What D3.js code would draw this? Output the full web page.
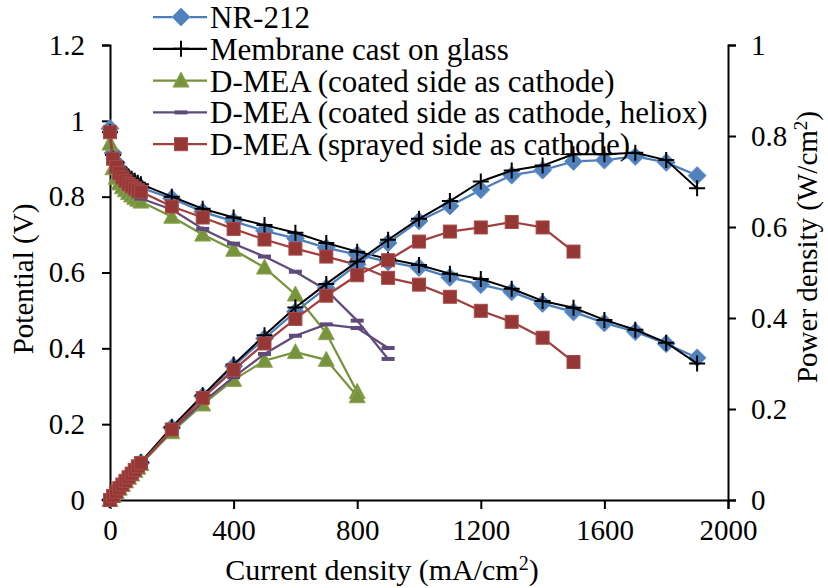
<!DOCTYPE html>
<html>
<head>
<meta charset="utf-8">
<script src="https://cdn.jsdelivr.net/npm/d3@7"></script>
<style>
  html, body { margin: 0; padding: 0; background: #fff; }
  svg { display: block; }
  text { font-family: "Liberation Serif", "Times New Roman", serif; fill: #000; }
</style>
</head>
<body>
<svg id="chart" width="828" height="588"></svg>
<script>
// Current density points (mA/cm2)
const currentFull   = [0,10,20,30,40,50,60,70,80,90,100,200,300,400,500,600,700,800,900,1000,1100,1200,1300,1400,1500,1600,1700,1800,1900];
const currentGreen  = [0,10,20,30,40,50,60,70,80,90,100,200,300,400,500,600,700,800];
const currentPurple = [0,10,20,30,40,50,60,70,80,90,100,200,300,400,500,600,700,800,900];
const currentRed    = [0,10,20,30,40,50,60,70,80,90,100,200,300,400,500,600,700,800,900,1000,1100,1200,1300,1400,1500];

// Cell potential (V)
const vNR212    = [0.98,0.915,0.89,0.875,0.864,0.855,0.848,0.841,0.835,0.829,0.824,0.795,0.76,0.735,0.71,0.69,0.665,0.647,0.628,0.613,0.587,0.568,0.549,0.518,0.496,0.467,0.444,0.412,0.375];
const vCast     = [0.97,0.91,0.89,0.877,0.868,0.86,0.853,0.847,0.842,0.837,0.833,0.80,0.768,0.745,0.725,0.705,0.678,0.655,0.636,0.62,0.597,0.583,0.557,0.525,0.507,0.475,0.449,0.415,0.36];
const vCoated   = [0.94,0.875,0.85,0.835,0.825,0.817,0.81,0.803,0.797,0.792,0.787,0.747,0.70,0.66,0.613,0.542,0.44,0.285];
const vHeliox   = [0.96,0.89,0.865,0.85,0.838,0.829,0.821,0.814,0.808,0.801,0.795,0.766,0.715,0.676,0.642,0.602,0.554,0.473,0.372];
const vSprayed  = [0.97,0.90,0.878,0.862,0.851,0.842,0.834,0.828,0.822,0.817,0.813,0.774,0.745,0.715,0.687,0.663,0.642,0.62,0.586,0.568,0.536,0.499,0.47,0.428,0.364];

// Power density (W/cm2)
const pNR212    = [0,0.009,0.018,0.026,0.035,0.043,0.051,0.059,0.067,0.075,0.082,0.159,0.228,0.294,0.355,0.414,0.466,0.518,0.565,0.613,0.646,0.682,0.714,0.725,0.744,0.747,0.755,0.742,0.713];
const pCast     = [0,0.009,0.018,0.026,0.035,0.043,0.051,0.059,0.067,0.075,0.083,0.16,0.23,0.298,0.362,0.423,0.475,0.524,0.572,0.618,0.657,0.70,0.724,0.735,0.76,0.76,0.763,0.747,0.685];
const pCoated   = [0,0.009,0.017,0.025,0.033,0.041,0.049,0.056,0.064,0.071,0.079,0.149,0.21,0.264,0.306,0.325,0.308,0.228];
const pHeliox   = [0,0.009,0.017,0.026,0.034,0.041,0.049,0.057,0.065,0.072,0.08,0.153,0.215,0.27,0.321,0.361,0.386,0.378,0.334];
const pSprayed  = [0,0.009,0.018,0.026,0.034,0.042,0.05,0.058,0.066,0.074,0.081,0.155,0.224,0.286,0.344,0.398,0.449,0.494,0.527,0.568,0.59,0.599,0.611,0.599,0.546];

// Axis tick labels
const xTickLabels = ["0","400","800","1200","1600","2000"];
const yLeftTickLabels = ["0","0.2","0.4","0.6","0.8","1","1.2"];
const yRightTickLabels = ["0","0.2","0.4","0.6","0.8","1"];

const seriesNames = ["NR-212","Membrane cast on glass","D-MEA (coated side as cathode)","D-MEA (coated side as cathode, heliox)","D-MEA (sprayed side as cathode)"];

const styles = [
  { line: "#4A7EBB", fill: "#4F81BD", stroke: "#7199CC", marker: "diamond" },
  { line: "#000000", fill: "none",    stroke: "#000000", marker: "plus" },
  { line: "#77933C", fill: "#77933C", stroke: "#8AA553", marker: "triangle" },
  { line: "#604A7B", fill: "#604A7B", stroke: "#604A7B", marker: "dash" },
  { line: "#A0403D", fill: "#953735", stroke: "#A94B48", marker: "square" }
];

const currents = [currentFull, currentFull, currentGreen, currentPurple, currentRed];
const volts = [vNR212, vCast, vCoated, vHeliox, vSprayed];
const powers = [pNR212, pCast, pCoated, pHeliox, pSprayed];

const svg = d3.select("#chart");
const plotLeft = 110, plotRight = 728, plotTop = 45, plotBottom = 500;

const x = d3.scaleLinear().domain([0, 2000]).range([plotLeft, plotRight]);
const yL = d3.scaleLinear().domain([0, 1.2]).range([plotBottom, plotTop]);
const yR = d3.scaleLinear().domain([0, 1]).range([plotBottom, plotTop]);

const FONT = 29;
const LEGEND_FONT = 31;

// Axes
const xAxis = d3.axisBottom(x).tickValues(d3.range(0, 2001, 400))
  .tickFormat((d, i) => xTickLabels[i]).tickSizeOuter(0).tickSize(9).tickPadding(10);
const yAxisL = d3.axisLeft(yL).tickValues(d3.range(0, 7).map(i => i * 0.2))
  .tickFormat((d, i) => yLeftTickLabels[i]).tickSizeOuter(0).tickSize(8).tickPadding(17);
const yAxisR = d3.axisRight(yR).tickValues(d3.range(0, 6).map(i => i * 0.2))
  .tickFormat((d, i) => yRightTickLabels[i]).tickSizeOuter(0).tickSize(8).tickPadding(15);

function styleAxis(g) {
  g.selectAll("path.domain").attr("stroke", "#000").attr("stroke-width", 2);
  g.selectAll(".tick line").attr("stroke", "#000").attr("stroke-width", 2);
  g.selectAll(".tick text").style("font-size", FONT + "px").attr("fill", "#000")
    .style("font-family", '"Liberation Serif", "Times New Roman", serif');
}

svg.append("g").attr("transform", `translate(0,${plotBottom})`).call(xAxis).call(styleAxis);
svg.append("g").attr("transform", `translate(${plotLeft},0)`).call(yAxisL).call(styleAxis);
svg.append("g").attr("transform", `translate(${plotRight},0)`).call(yAxisR).call(styleAxis);

// Marker drawing
function drawMarker(g, type, st) {
  if (type === "diamond") {
    g.append("path").attr("d", "M0,-9L9,0L0,9L-9,0Z").attr("fill", st.fill).attr("stroke", st.stroke).attr("stroke-width", 1);
  } else if (type === "plus") {
    g.append("path").attr("d", "M-8,0H8M0,-8V8").attr("stroke", "#000").attr("stroke-width", 2);
  } else if (type === "triangle") {
    g.append("path").attr("d", "M0,-8.5L8,6.5L-8,6.5Z").attr("fill", st.fill).attr("stroke", st.stroke).attr("stroke-width", 1);
  } else if (type === "dash") {
    g.append("rect").attr("x", -6.5).attr("y", -2).attr("width", 13).attr("height", 4).attr("fill", st.fill);
  } else if (type === "square") {
    g.append("rect").attr("x", -6.5).attr("y", -6.5).attr("width", 13).attr("height", 13).attr("fill", st.fill).attr("stroke", st.stroke).attr("stroke-width", 1);
  }
}

function drawSeries(xs, ys, yScale, st) {
  const pts = xs.map((c, i) => [x(c), yScale(ys[i])]);
  const g = svg.append("g");
  g.append("path").attr("d", d3.line()(pts)).attr("fill", "none")
    .attr("stroke", st.line).attr("stroke-width", st.marker === "plus" ? 2 : 2.25)
    .attr("stroke-linejoin", "round");
  pts.forEach(p => {
    const m = g.append("g").attr("transform", `translate(${p[0]},${p[1]})`);
    drawMarker(m, st.marker, st);
  });
}

// Polarization curves on the left axis, power curves on the right
for (let s = 0; s < 5; s++) drawSeries(currents[s], volts[s], yL, styles[s]);
for (let s = 0; s < 5; s++) drawSeries(currents[s], powers[s], yR, styles[s]);

// Legend
const legendY0 = 17, legendStep = 31.8;
seriesNames.forEach((name, i) => {
  const cy = legendY0 + i * legendStep;
  const st = styles[i];
  const g = svg.append("g");
  g.append("line").attr("x1", 153).attr("x2", 207).attr("y1", cy).attr("y2", cy)
    .attr("stroke", st.line).attr("stroke-width", 2.25);
  drawMarker(g.append("g").attr("transform", `translate(181,${cy})`), st.marker, st);
  g.append("text").attr("x", 210).attr("y", cy + 11).style("font-size", LEGEND_FONT + "px").text(name);
});

// Axis titles
svg.append("text").attr("transform", "translate(33,279) rotate(-90)")
  .attr("text-anchor", "middle").style("font-size", FONT + "px").text("Potential (V)");

const rt = svg.append("text").attr("transform", "translate(817,247) rotate(-90)")
  .attr("text-anchor", "middle").style("font-size", FONT + "px");
rt.append("tspan").text("Power density (W/cm");
rt.append("tspan").attr("dy", -10).style("font-size", "19px").text("2");
rt.append("tspan").attr("dy", 10).text(")");

const xt = svg.append("text").attr("x", 382).attr("y", 580)
  .attr("text-anchor", "middle").style("font-size", "30px");
xt.append("tspan").text("Current density (mA/cm");
xt.append("tspan").attr("dy", -10).style("font-size", "20px").text("2");
xt.append("tspan").attr("dy", 10).text(")");
</script>
</body>
</html>
